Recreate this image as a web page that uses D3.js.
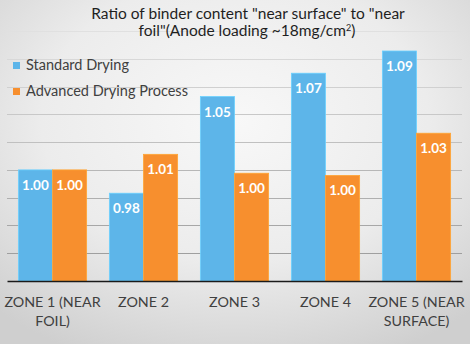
<!DOCTYPE html>
<html>
<head>
<meta charset="utf-8">
<script src="https://cdn.jsdelivr.net/npm/d3@7"></script>
<style>
  body { margin: 0; padding: 0; }
  svg { display: block; font-family: Lato, "Open Sans", sans-serif; }
</style>
</head>
<body>
<div class="chart"></div>
<script>
// categories (two lines each)
const zones = [
  ["ZONE 1 (NEAR", "FOIL)"],
  ["ZONE 2"],
  ["ZONE 3"],
  ["ZONE 4"],
  ["ZONE 5 (NEAR", "SURFACE)"]
];
const seriesNames = ["Standard Drying", "Advanced Drying Process"];

// bar heights as drawn in the picture (axis units)
const standardValues = [1.000, 0.979, 1.066, 1.087, 1.107];
const advancedValues = [1.000, 1.014, 0.997, 0.995, 1.033];

// numbers printed on the bars
const standardLabels = ["1.00", "0.98", "1.05", "1.07", "1.09"];
const advancedLabels = ["1.00", "1.01", "1.00", "1.00", "1.03"];

// hidden value axis
const yTicks = [0.9, 0.925, 0.95, 0.975, 1.0, 1.025, 1.05, 1.075, 1.1, 1.125];

const colors = ["#5db5e9", "#f78f2e"];

const width = 470, height = 344;
const margin = {top: 31, right: 8, bottom: 63, left: 7};

const svg = d3.select(".chart").append("svg")
  .attr("width", width)
  .attr("height", height);

// background gradient
const defs = svg.append("defs");
const grad = defs.append("radialGradient")
  .attr("id", "bg")
  .attr("cx", "50%").attr("cy", "35%").attr("r", "75%");
grad.append("stop").attr("offset", "0%").attr("stop-color", "#f8f8f8");
grad.append("stop").attr("offset", "55%").attr("stop-color", "#ececec");
grad.append("stop").attr("offset", "100%").attr("stop-color", "#cfcfcf");
svg.append("rect").attr("width", width).attr("height", height).attr("fill", "url(#bg)");

const x0 = d3.scaleBand()
  .domain(d3.range(zones.length))
  .range([margin.left, width - margin.right])
  .paddingInner(0.25)
  .paddingOuter(0.125);

const x1 = d3.scaleBand()
  .domain([0, 1])
  .range([0, x0.bandwidth()]);

const y = d3.scaleLinear()
  .domain([0.9, 1.125])
  .range([height - margin.bottom, margin.top]);

// gridlines, darker near the bottom
const gridColor = d3.scaleLinear()
  .domain([margin.top, height - margin.bottom])
  .range(["#e0e0e0", "#979797"]);

svg.append("g")
  .selectAll("line")
  .data(yTicks.slice(1))
  .join("line")
  .attr("x1", margin.left)
  .attr("x2", width - margin.right)
  .attr("y1", d => Math.round(y(d)) + 0.5)
  .attr("y2", d => Math.round(y(d)) + 0.5)
  .attr("stroke", d => gridColor(y(d)))
  .attr("stroke-width", 1);

// bars
const series = [standardValues, advancedValues];
const labels = [standardLabels, advancedLabels];

const groups = svg.append("g")
  .selectAll("g")
  .data(zones)
  .join("g")
  .attr("transform", (d, i) => `translate(${x0(i)},0)`);

groups.selectAll("rect")
  .data((d, i) => series.map((s, k) => ({k, v: s[i]})))
  .join("rect")
  .attr("x", d => x1(d.k))
  .attr("width", x1.bandwidth())
  .attr("y", d => y(d.v))
  .attr("height", d => y(0.9) - y(d.v))
  .attr("fill", d => colors[d.k])
  .attr("stroke", d => d3.color(colors[d.k]).brighter(0.4))
  .attr("stroke-width", 0.8);

groups.selectAll("text.val")
  .data((d, i) => series.map((s, k) => ({k, v: s[i], t: labels[k][i]})))
  .join("text")
  .attr("class", "val")
  .attr("x", d => x1(d.k) + x1.bandwidth() / 2)
  .attr("y", d => y(d.v) + 20)
  .attr("text-anchor", "middle")
  .attr("fill", "#ffffff")
  .attr("font-weight", "bold")
  .attr("font-size", 13.5)
  .text(d => d.t);

// x axis line
const xAxis = d3.axisBottom(x0).tickSize(0).tickFormat("");
svg.append("g")
  .attr("transform", `translate(0,${height - margin.bottom})`)
  .call(xAxis)
  .call(g => g.select(".domain").attr("stroke", "#1a1a1a").attr("stroke-width", 1.6));

// category labels
const catLabels = svg.append("g")
  .selectAll("text")
  .data(zones)
  .join("text")
  .attr("x", (d, i) => x0(i) + x0.bandwidth() / 2)
  .attr("y", height - margin.bottom + 26)
  .attr("text-anchor", "middle")
  .attr("fill", "#404040")
  .attr("font-size", 14.3);

catLabels.selectAll("tspan")
  .data(d => d)
  .join("tspan")
  .attr("x", function() { return d3.select(this.parentNode).attr("x"); })
  .attr("dy", (d, i) => i === 0 ? 0 : 18.5)
  .text(d => d);

// title
const titleLines = ['Ratio of binder content "near surface" to "near', 'foil"(Anode loading ~18mg/cm'];
svg.append("text")
  .attr("x", 248).attr("y", 19)
  .attr("text-anchor", "middle")
  .attr("fill", "#1f1f1f")
  .attr("font-size", 15.5)
  .text(titleLines[0]);
const title2 = svg.append("text")
  .attr("x", 247).attr("y", 36)
  .attr("text-anchor", "middle")
  .attr("fill", "#1f1f1f")
  .attr("font-size", 15.5);
title2.append("tspan").text(titleLines[1]);
title2.append("tspan").attr("font-size", 9).attr("dy", -5).text("2");
title2.append("tspan").attr("dy", 5).text(")");

// legend
const legend = svg.append("g")
  .selectAll("g")
  .data(seriesNames)
  .join("g")
  .attr("transform", (d, i) => `translate(13,${62 + i * 26})`);
legend.append("rect")
  .attr("width", 7).attr("height", 7)
  .attr("fill", (d, i) => colors[i]);
legend.append("text")
  .attr("x", 13).attr("y", 8)
  .attr("fill", "#404040")
  .attr("font-size", 14.5)
  .text(d => d);
</script>
</body>
</html>
